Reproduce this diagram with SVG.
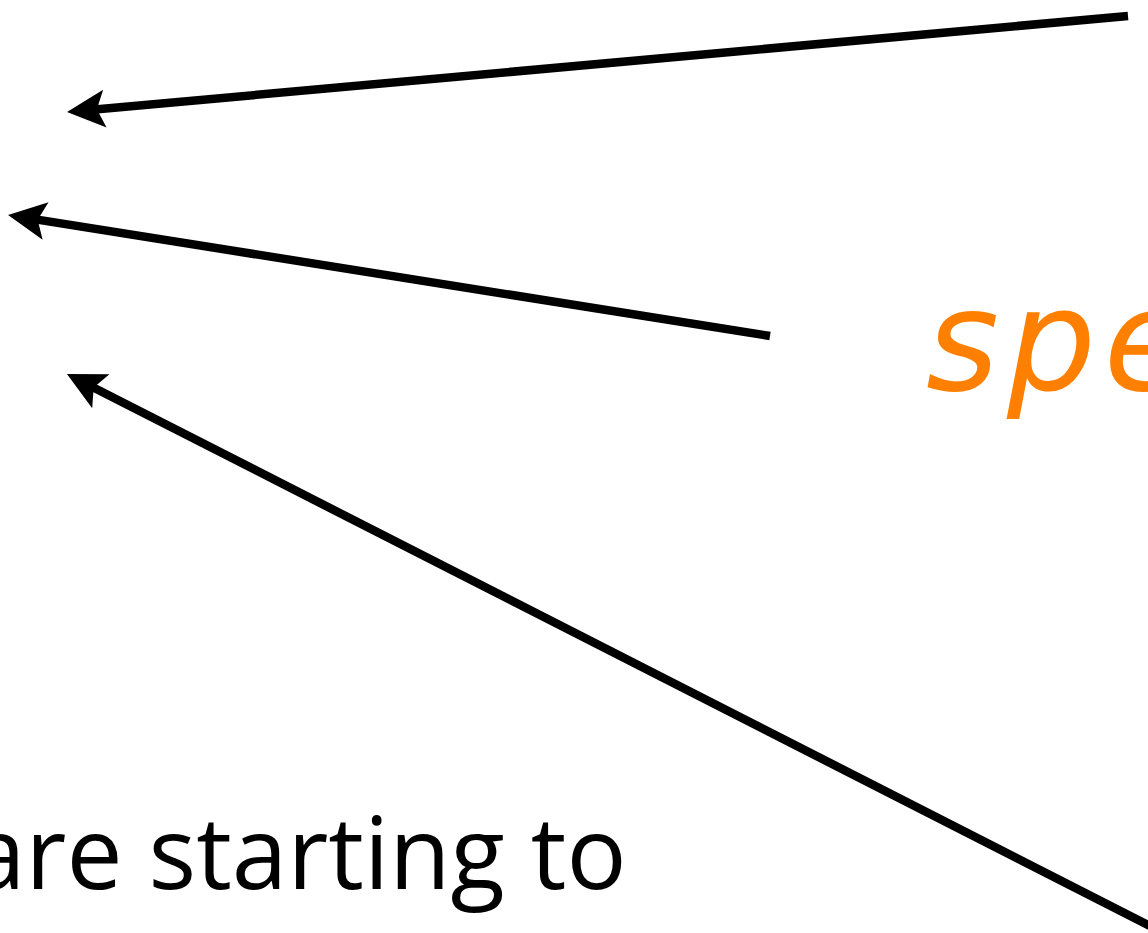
<svg xmlns="http://www.w3.org/2000/svg" width="1148" height="933" viewBox="0 0 1148 933">
<style>
.conn{stroke:#000;stroke-width:8.5;fill:none;marker-end:url(#ah)}
.body{font-family:"Open Sans","Liberation Sans",sans-serif;fill:#000}
.hand{font-family:"DejaVu Sans","Liberation Sans",sans-serif;font-style:oblique;fill:#FF8000}
</style>
<defs>
<marker id="ah" markerUnits="userSpaceOnUse" markerWidth="60" markerHeight="60" viewBox="-30 -30 60 60" refX="0" refY="0" orient="auto" overflow="visible">
<path d="M28,0 L-10,-19 L-2,0 L-10,19 Z" fill="#000"/>
</marker>
</defs>
<rect width="1148" height="933" fill="#fff"/>
<g id="connectors">
<line class="conn" x1="1128" y1="16" x2="94.9" y2="109.5"/>
<line class="conn" x1="770" y1="336" x2="35.7" y2="219.4"/>
<line class="conn" x1="1150" y1="926" x2="91.9" y2="386.7"/>
</g>
<g id="label-spe">
<text class="hand" x="926" y="390" font-size="140" letter-spacing="8">spe</text>
</g>
<g id="label-green">
<text x="6" y="382" font-family="DejaVu Sans, sans-serif" font-style="oblique" font-size="110" fill="#66CC33" text-anchor="end">n</text>
</g>
<g id="label-text">
<text class="body" x="-30" y="889" font-size="100">are starting to</text>
</g>
</svg>
